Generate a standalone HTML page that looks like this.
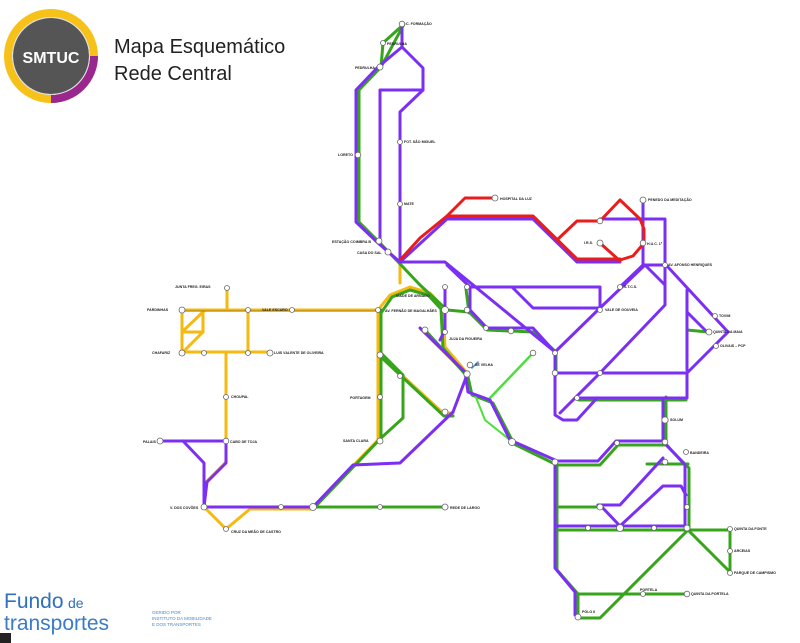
<!DOCTYPE html>
<html><head><meta charset="utf-8"><style>
html,body{margin:0;padding:0;background:#fff;width:800px;height:643px;overflow:hidden}
svg text{font-family:"Liberation Sans",sans-serif}
.t{font-size:3.6px;font-weight:bold;fill:#222}
</style></head><body>
<svg width="800" height="643" viewBox="0 0 800 643" xmlns="http://www.w3.org/2000/svg">
<!-- logo -->
<circle cx="51" cy="56" r="43" fill="none" stroke="#f6c21a" stroke-width="8"/>
<path d="M94 56 A43 43 0 0 1 51 99" fill="none" stroke="#9a2690" stroke-width="8"/>
<circle cx="51" cy="56" r="38" fill="#555"/>
<circle cx="51" cy="56" r="38.5" fill="none" stroke="#ddd" stroke-width="1"/>
<text x="51" y="63" text-anchor="middle" font-size="16" font-weight="bold" fill="#fff">SMTUC</text>
<text x="114" y="53" font-size="20" fill="#222">Mapa Esquemático</text>
<text x="114" y="80" font-size="20" fill="#222">Rede Central</text>

<g fill="none" stroke-linejoin="round" stroke-linecap="round" stroke-width="3">
<!-- yellow -->
<g stroke="#f5b90f">
<polyline points="182,310 378,310"/>
<polyline points="182,310 182,352 270,352"/>
<polyline points="203,310 203,332 182,353"/>
<polyline points="182,332 203,332"/>
<polyline points="182,332 205,310"/>
<polyline points="227,288 227,310"/>
<polyline points="248,310 248,352"/>
<polyline points="226,352 226,462 205,483 204,507 226,529 250,509 312,509"/>
<polyline points="378,310 378,440 313,507"/>
<polyline points="380,355 443,413 453,413"/>
<polyline points="378,310 390,295 410,287 430,293 443,307 445,347 467,373"/>
<polyline points="400,262 400,283"/>
<polyline points="422,330 467,375 470,393 490,400"/>
</g>
<polyline points="182,311 378,311" stroke="#b8860b" stroke-width="1.2"/>
<!-- green -->
<g stroke="#36a51c">
<polyline points="404,24 383,43 381,67 404,24"/>
<polyline points="381,67 359,90 359,222 380,243 402,266 420,285 447,310 469,312 487,330 534,332 556,352 556,375"/>
<polyline points="381,313 392,297 410,290 428,295 441,309 443,348 465,374"/>
<polyline points="381,310 381,438 315,507 447,507"/>
<polyline points="381,353 403,375 403,418 381,438"/>
<polyline points="382,358 444,416 453,416"/>
<polyline points="425,330 468,377 472,395 493,403 514,444 557,465 557,570 578,594 578,617"/>
<polyline points="557,465 600,465 618,445 666,445"/>
<polyline points="647,464 688,464"/>
<polyline points="666,397 666,445 689,468 689,528"/>
<polyline points="557,507 601,507"/>
<polyline points="557,530 688,530 730,530 730,572 688,530 600,618 580,618"/>
<polyline points="578,594 688,594"/>
<polyline points="579,400 686,400"/>
<polyline points="687,370 687,330 708,332"/>
<polyline points="466,289 469,313"/>
</g>
<polyline points="490,398 533,353" stroke="#4be03a" stroke-width="2.5"/>
<polyline points="475,395 485,420 510,440" stroke="#4be03a" stroke-width="2"/>
<!-- purple -->
<g stroke="#7b2ff5">
<polyline points="402,24 402,47 378,67 356,90 356,222 378,243 400,262"/>
<polyline points="402,47 423,68 423,90 380,90 380,240"/>
<polyline points="423,90 400,112 400,262"/>
<polyline points="400,262 447,219 533,219 577,262 620,262"/>
<polyline points="600,219 665,219 665,305 600,373"/>
<polyline points="643,200 643,265 620,287"/>
<polyline points="400,262 445,262 555,352 555,415 563,420 577,420 597,398"/>
<polyline points="467,287 600,287 600,308"/>
<polyline points="513,288 533,308 600,308"/>
<polyline points="555,352 600,308 645,265 665,265"/>
<polyline points="645,265 665,285"/>
<polyline points="667,266 728,332 688,372"/>
<polyline points="687,290 687,370"/>
<polyline points="687,312 707,332"/>
<polyline points="555,373 687,373 687,398 576,398"/>
<polyline points="560,413 600,373"/>
<polyline points="445,288 445,330 440,340"/>
<polyline points="447,265 470,287 470,310 487,328 533,328 553,350"/>
<polyline points="420,328 465,372 468,392 490,400 510,440 555,460 555,568 575,592 575,615"/>
<polyline points="555,461 598,461 616,441 663,441"/>
<polyline points="663,398 663,441 685,465 685,526"/>
<polyline points="598,505 620,505 663,458"/>
<polyline points="555,526 685,526"/>
<polyline points="620,526 663,486 681,486 686,495"/>
<polyline points="600,505 620,526"/>
<polyline points="160,441 226,441 226,463 207,482 204,507 313,507 353,465 400,463 453,412"/>
<polyline points="183,441 204,463 204,507"/>
<polyline points="453,412 467,375"/>
</g>
<!-- red -->
<g stroke="#ea1c1c">
<polyline points="401,259 420,238 447,216 465,198 495,198"/>
<polyline points="447,216 533,216 577,259 620,259"/>
<polyline points="557,240 577,221 600,221 620,200 640,219 644,229 644,243 633,256 620,260"/>
<polyline points="600,243 620,261"/>
</g>
<polyline points="472,368 478,362" stroke="#3a8fd8" stroke-width="1.5"/>
</g>

<!-- stations -->
<g fill="#fff" stroke="#666" stroke-width="0.8">
<circle cx="402" cy="24" r="2.8"/><circle cx="383" cy="43" r="2.5"/><circle cx="380" cy="67" r="3"/>
<circle cx="358" cy="155" r="2.8"/><circle cx="400" cy="142" r="2.5"/><circle cx="400" cy="204" r="2.5"/>
<circle cx="379" cy="241" r="3"/><circle cx="388" cy="252" r="3"/>
<circle cx="495" cy="198" r="3"/><circle cx="643" cy="200" r="3"/><circle cx="600" cy="221" r="2.8"/>
<circle cx="600" cy="243" r="3"/><circle cx="643" cy="243" r="2.8"/><circle cx="620" cy="287" r="2.5"/>
<circle cx="600" cy="310" r="2.5"/><circle cx="665" cy="265" r="2.5"/><circle cx="715" cy="316" r="2.5"/>
<circle cx="709" cy="332" r="3"/><circle cx="716" cy="346" r="2.5"/>
<circle cx="445" cy="287" r="2.5"/><circle cx="467" cy="287" r="2.5"/><circle cx="445" cy="310" r="3.5"/>
<circle cx="467" cy="310" r="2.8"/><circle cx="486" cy="328" r="2.5"/><circle cx="511" cy="331" r="2.8"/>
<circle cx="533" cy="353" r="2.8"/><circle cx="555" cy="353" r="2.5"/><circle cx="555" cy="373" r="2.8"/>
<circle cx="600" cy="373" r="2.5"/><circle cx="577" cy="398" r="2.5"/><circle cx="665" cy="420" r="3.2"/>
<circle cx="686" cy="452" r="2.5"/><circle cx="665" cy="442" r="2.8"/><circle cx="665" cy="462" r="2.8"/>
<circle cx="617" cy="443" r="2.5"/><circle cx="687" cy="507" r="2.5"/>
<circle cx="512" cy="442" r="3.5"/><circle cx="555" cy="462" r="3"/><circle cx="600" cy="507" r="3"/>
<circle cx="620" cy="528" r="3.5"/><circle cx="588" cy="528" r="2.5"/><circle cx="654" cy="528" r="2.5"/>
<circle cx="687" cy="528" r="3"/><circle cx="730" cy="529" r="2.5"/><circle cx="730" cy="551" r="2.5"/><circle cx="730" cy="573" r="2.5"/>
<circle cx="643" cy="594" r="2.5"/><circle cx="687" cy="594" r="2.8"/><circle cx="578" cy="617" r="3"/>
<circle cx="470" cy="365" r="2.8"/><circle cx="467" cy="374" r="3.2"/><circle cx="445" cy="412" r="3"/>
<circle cx="425" cy="330" r="3"/><circle cx="445" cy="332" r="2.5"/><circle cx="400" cy="376" r="2.5"/>
<circle cx="380" cy="355" r="3"/><circle cx="380" cy="397" r="2.5"/><circle cx="380" cy="441" r="3"/>
<circle cx="378" cy="310" r="2.5"/><circle cx="182" cy="310" r="3"/><circle cx="248" cy="310" r="2.5"/>
<circle cx="292" cy="310" r="2.5"/><circle cx="227" cy="288" r="2.5"/><circle cx="182" cy="353" r="3"/>
<circle cx="204" cy="353" r="2.5"/><circle cx="248" cy="353" r="2.5"/><circle cx="270" cy="353" r="3"/>
<circle cx="226" cy="397" r="2.5"/><circle cx="226" cy="441" r="2.8"/><circle cx="160" cy="441" r="3"/>
<circle cx="204" cy="507" r="3"/><circle cx="226" cy="529" r="2.5"/><circle cx="281" cy="507" r="2.5"/>
<circle cx="313" cy="507" r="3.5"/><circle cx="380" cy="507" r="2.5"/><circle cx="445" cy="507" r="3"/>
</g>

<!-- labels -->
<g class="t">
<text x="406" y="25">C. FORMAÇÃO</text><text x="387" y="45">PEDRULHA</text>
<text x="355" y="69">PEDRULHA</text><text x="338" y="156">LORETO</text>
<text x="404" y="143">FOT. SÃO MIGUEL</text><text x="404" y="205">MATE</text>
<text x="332" y="243">ESTAÇÃO COIMBRA B</text><text x="357" y="254">CASA DO SAL</text>
<text x="500" y="200">HOSPITAL DA LUZ</text><text x="648" y="201">PENEDO DA MEDITAÇÃO</text>
<text x="584" y="244">I.R.S.</text><text x="647" y="245">H.U.C. 1ª</text>
<text x="624" y="288">S.T.C.S.</text><text x="605" y="311">VALE DE GOUVEIA</text>
<text x="668" y="266">AV. AFONSO HENRIQUES</text><text x="719" y="317">TOVIM</text>
<text x="713" y="333">QUINTA DA MAIA</text><text x="720" y="347">OLIVAIS – PCP</text>
<text x="670" y="421">SOLUM</text><text x="690" y="454">BANDEIRA</text>
<text x="734" y="530">QUINTA DA FONTE</text><text x="734" y="552">ARCEIAS</text>
<text x="734" y="574">PARQUE DE CAMPISMO</text><text x="640" y="591">PORTELA</text>
<text x="691" y="595">QUINTA DA PORTELA</text><text x="582" y="613">PÓLO II</text>
<text x="475" y="366">SÉ VELHA</text><text x="385" y="312">AV. FERNÃO DE MAGALHÃES</text>
<text x="396" y="297">VIADE DE ARNADO</text><text x="449" y="340">JUJA DA FIGUEIRA</text>
<text x="350" y="399">PORTAGEM</text><text x="343" y="442">SANTA CLARA</text>
<text x="147" y="311">PARDINHAS</text><text x="262" y="311">VALE ESCURO</text>
<text x="175" y="288">JUNTA FREG. EIRAS</text><text x="152" y="354">CHAFARIZ</text>
<text x="274" y="354">LUIS VALENTE DE OLIVEIRA</text><text x="231" y="398">CHOUPAL</text>
<text x="230" y="443">CABO DE TOJA</text><text x="143" y="443">PALAIS</text>
<text x="170" y="509">V. DOS COVÕES</text><text x="231" y="533">CRUZ DA MEÃO DE CASTRO</text>
<text x="450" y="509">REDE DE LARGO</text>
</g>

<!-- footer -->
<text x="4" y="608" font-size="21" fill="#2f6fc0" font-family="Liberation Sans,sans-serif">Fundo</text>
<text x="68" y="608" font-size="14" fill="#2f6fc0" font-family="Liberation Sans,sans-serif">de</text>
<text x="4" y="630" font-size="21" fill="#3a7bc8" font-family="Liberation Sans,sans-serif">transportes</text>
<g font-size="4.5" fill="#4a86c8" font-family="Liberation Sans,sans-serif">
<text x="152" y="614">GERIDO POR</text><text x="152" y="620">INSTITUTO DA MOBILIDADE</text><text x="152" y="626">E DOS TRANSPORTES</text>
</g>
<rect x="0" y="633" width="11" height="10" fill="#222"/>
</svg>
</body></html>
